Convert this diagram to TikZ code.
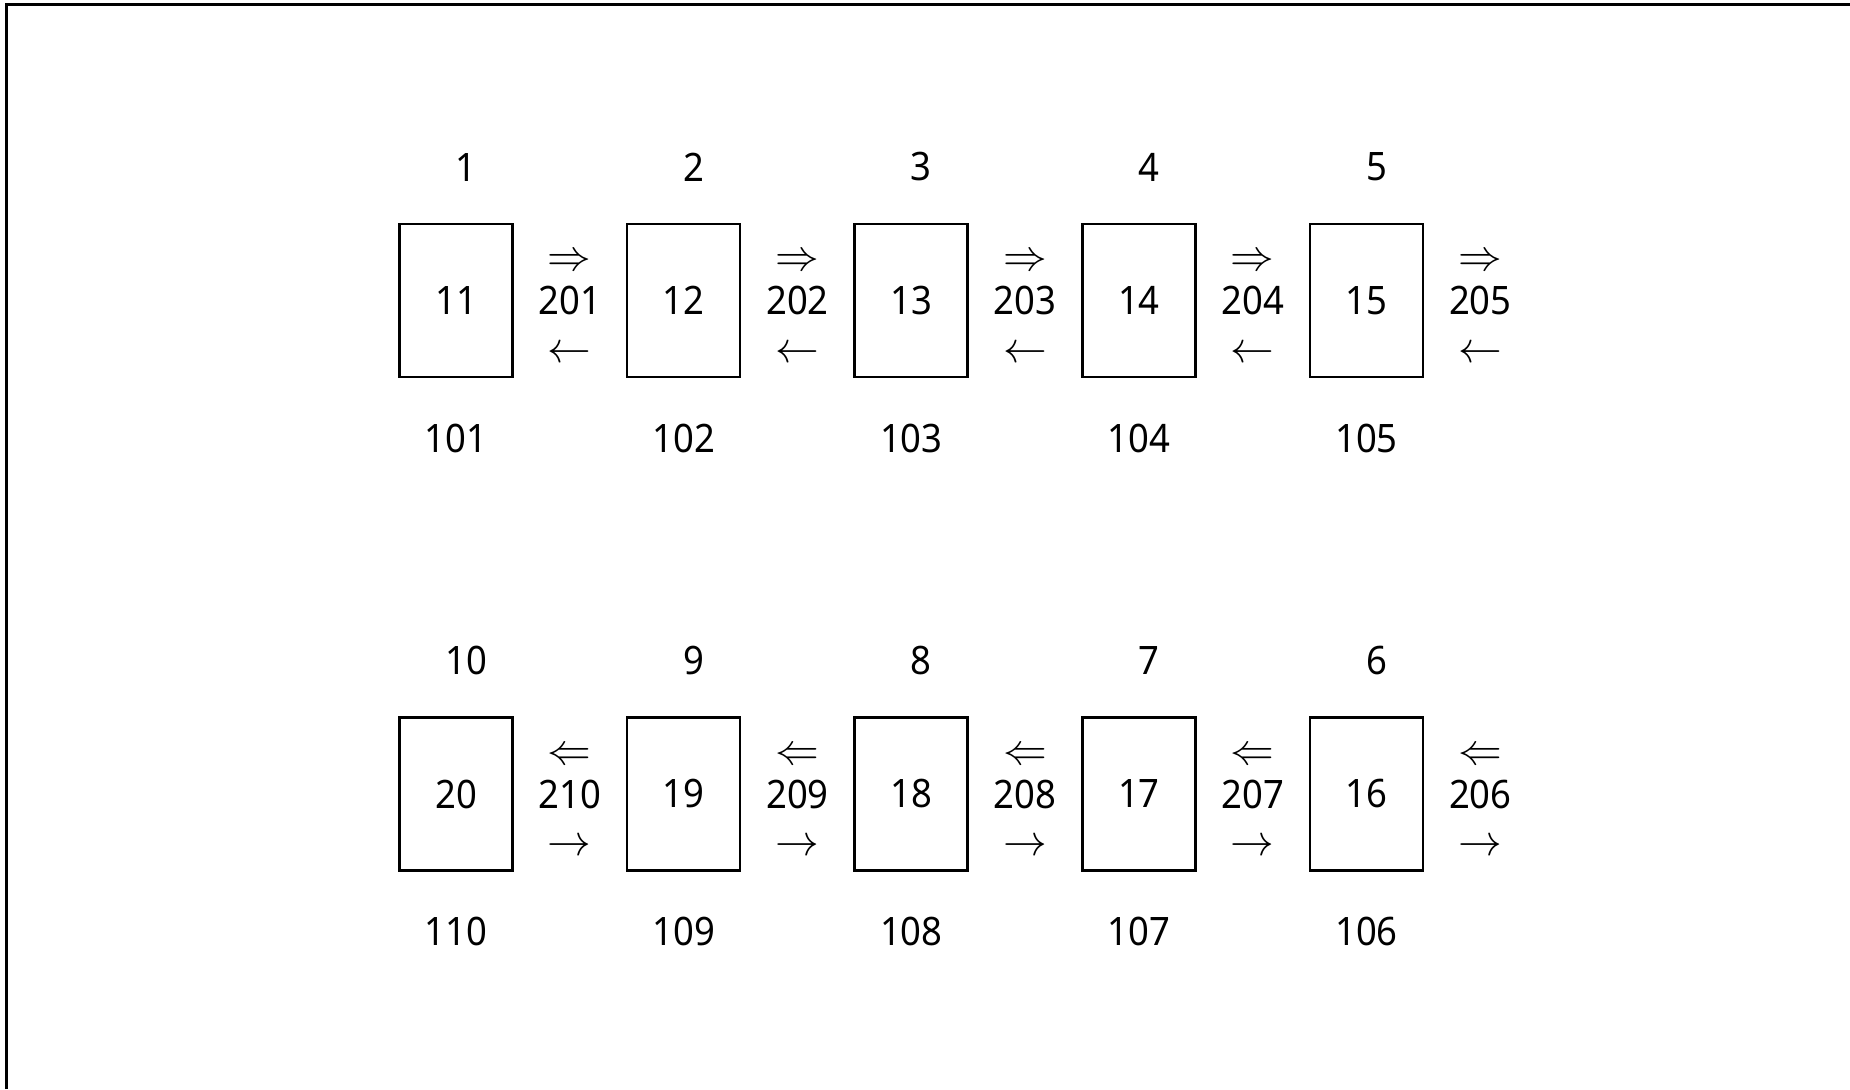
\documentclass[tikz,border=0pt]{standalone}
\usepackage{fontspec}
\setmainfont{Noto Sans}[FakeStretch=0.93]
\usetikzlibrary{positioning}

\begin{document}
\begin{tikzpicture}[
    node distance=2.24cm,
    frame/.style={line width=1.4pt},
    page/.style={draw, line width=1.5pt, minimum width=2.26cm, minimum height=3.06cm, inner sep=0pt, font=\fontsize{22.3}{26}\selectfont},
    tag/.style={inner sep=0pt, font=\fontsize{22.3}{26}\selectfont},
    arr/.style={inner sep=0pt, font=\fontsize{26}{30}\selectfont}
]
\useasboundingbox (0,0) rectangle (37,21.78);
\draw[frame] (0.13,0) -- (0.13,21.69) -- (37,21.69);

% upper row
\node[page] (b11) at (9.12,15.77) {11};
\node[page, right=of b11] (b12) {12};
\node[page, right=of b12] (b13) {13};
\node[page, right=of b13] (b14) {14};
\node[page, right=of b14] (b15) {15};

\node[tag, above=0.82cm of b11, xshift=0.2cm] (t1) {1};
\node[tag, above=0.82cm of b12, xshift=0.2cm] (t2) {2};
\node[tag, above=0.82cm of b13, xshift=0.2cm] (t3) {3};
\node[tag, above=0.82cm of b14, xshift=0.2cm] (t4) {4};
\node[tag, above=0.82cm of b15, xshift=0.2cm] (t5) {5};

\node[tag, below=0.9cm of b11] (t101) {101};
\node[tag, below=0.9cm of b12] (t102) {102};
\node[tag, below=0.9cm of b13] (t103) {103};
\node[tag, below=0.9cm of b14] (t104) {104};
\node[tag, below=0.9cm of b15] (t105) {105};

\node[tag, right=1.12cm of b11.east, anchor=center] (n201) {201};
\node[tag, right=1.12cm of b12.east, anchor=center] (n202) {202};
\node[tag, right=1.12cm of b13.east, anchor=center] (n203) {203};
\node[tag, right=1.12cm of b14.east, anchor=center] (n204) {204};
\node[tag, right=1.12cm of b15.east, anchor=center] (n205) {205};

\node[arr, above=0.29cm of n201] (f201) {$\Rightarrow$};
\node[arr, above=0.29cm of n202] (f202) {$\Rightarrow$};
\node[arr, above=0.29cm of n203] (f203) {$\Rightarrow$};
\node[arr, above=0.29cm of n204] (f204) {$\Rightarrow$};
\node[arr, above=0.29cm of n205] (f205) {$\Rightarrow$};
\node[arr, below=0.61cm of n201] (r201) {$\leftarrow$};
\node[arr, below=0.61cm of n202] (r202) {$\leftarrow$};
\node[arr, below=0.61cm of n203] (r203) {$\leftarrow$};
\node[arr, below=0.61cm of n204] (r204) {$\leftarrow$};
\node[arr, below=0.61cm of n205] (r205) {$\leftarrow$};

% lower row
\node[page] (b20) at (9.12,5.9) {20};
\node[page, right=of b20] (b19) {19};
\node[page, right=of b19] (b18) {18};
\node[page, right=of b18] (b17) {17};
\node[page, right=of b17] (b16) {16};

\node[tag, above=0.82cm of b20, xshift=0.2cm] (t10) {10};
\node[tag, above=0.82cm of b19, xshift=0.2cm] (t9) {9};
\node[tag, above=0.82cm of b18, xshift=0.2cm] (t8) {8};
\node[tag, above=0.82cm of b17, xshift=0.2cm] (t7) {7};
\node[tag, above=0.82cm of b16, xshift=0.2cm] (t6) {6};

\node[tag, below=0.9cm of b20] (t110) {110};
\node[tag, below=0.9cm of b19] (t109) {109};
\node[tag, below=0.9cm of b18] (t108) {108};
\node[tag, below=0.9cm of b17] (t107) {107};
\node[tag, below=0.9cm of b16] (t106) {106};

\node[tag, right=1.12cm of b20.east, anchor=center] (n210) {210};
\node[tag, right=1.12cm of b19.east, anchor=center] (n209) {209};
\node[tag, right=1.12cm of b18.east, anchor=center] (n208) {208};
\node[tag, right=1.12cm of b17.east, anchor=center] (n207) {207};
\node[tag, right=1.12cm of b16.east, anchor=center] (n206) {206};

\node[arr, above=0.29cm of n210] (f210) {$\Leftarrow$};
\node[arr, above=0.29cm of n209] (f209) {$\Leftarrow$};
\node[arr, above=0.29cm of n208] (f208) {$\Leftarrow$};
\node[arr, above=0.29cm of n207] (f207) {$\Leftarrow$};
\node[arr, above=0.29cm of n206] (f206) {$\Leftarrow$};
\node[arr, below=0.61cm of n210] (r210) {$\rightarrow$};
\node[arr, below=0.61cm of n209] (r209) {$\rightarrow$};
\node[arr, below=0.61cm of n208] (r208) {$\rightarrow$};
\node[arr, below=0.61cm of n207] (r207) {$\rightarrow$};
\node[arr, below=0.61cm of n206] (r206) {$\rightarrow$};
\end{tikzpicture}
\end{document}
